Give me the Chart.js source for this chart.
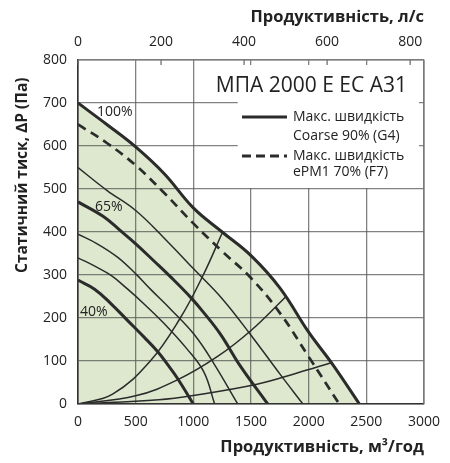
<!DOCTYPE html>
<html>
<head>
<meta charset="utf-8">
<script src="https://cdn.jsdelivr.net/npm/chart.js@4.4.1/dist/chart.umd.min.js"></script>
<style>
  html, body { margin: 0; padding: 0; background: #fff; }
  #caja { width: 450px; height: 463px; }
</style>
</head>
<body>
<div id="caja"><canvas id="grafico"></canvas></div>
<script>
// Curvas del ventilador: caudal (m3/h) y presion estatica (Pa)
const q100 = [0, 250, 500, 750, 1000, 1250, 1500, 1750, 2000, 2200, 2440];
const p100 = [700, 650, 598, 535, 456, 400, 345, 270, 167, 95, 0];

const qF7 = [0, 250, 500, 750, 1000, 1250, 1500, 1750, 2000, 2265];
const pF7 = [650, 607, 555, 490, 420, 355, 293, 212, 110, 0];

const q90 = [0, 250, 500, 750, 1000, 1250, 1500, 1750, 1950];
const p90 = [550, 497, 450, 385, 315, 245, 160, 70, 0];

const q65 = [0, 220, 360, 503, 661, 805, 977, 1092, 1236, 1408, 1645];
const p65 = [470, 436, 405, 372, 332, 295, 248, 212, 162, 88, 0];

const q55 = [0, 170, 345, 503, 632, 805, 1006, 1178, 1385];
const p55 = [395, 372, 341, 302, 266, 220, 162, 94, 0];

const q48 = [0, 150, 287, 431, 575, 747, 948, 1092, 1185];
const p48 = [340, 320, 299, 267, 232, 187, 127, 74, 0];

const q40 = [0, 144, 287, 431, 575, 690, 776, 862, 1000];
const p40 = [288, 267, 233, 194, 155, 122, 92, 60, 0];

// Curvas de la red (desde el origen hasta la curva de 100%)
const qRed1 = [0, 300, 627, 887, 1086, 1254];
const pRed1 = [0, 23, 100, 200, 300, 400];
const qRed2 = [0, 500, 862, 1207, 1500, 1800];
const pRed2 = [0, 19, 56, 110, 171, 249];
const qRed3 = [0, 700, 1000, 1552, 1900, 2195];
const pRed3 = [0, 10, 20, 46, 72, 96];

// Ejes
const ticksM3h = [0, 500, 1000, 1500, 2000, 2500, 3000];
const ticksLs = [0, 200, 400, 600, 800];
const ticksPa = [0, 100, 200, 300, 400, 500, 600, 700, 800];

const titulo = 'МПА 2000 E EC A31';
const leyenda = [['Макс. швидкість', 'Coarse 90% (G4)'], ['Макс. швидкість', 'ePM1 70% (F7)']];
const etiquetasPct = ['100%', '65%', '40%'];

const COLOR_LINEA = '#2b2b2b';
const COLOR_TEXTO = '#222';
const FUENTE = '"Open Sans", "Noto Sans", sans-serif';

function puntos(qs, ps) {
    return qs.map((q, i) => ({ x: q, y: ps[i] }));
}

function curva(qs, ps, ancho, extra) {
    return Object.assign({
        data: puntos(qs, ps),
        borderColor: COLOR_LINEA,
        borderWidth: ancho,
        pointRadius: 0,
        fill: false,
        tension: 0.4
    }, extra || {});
}

// Recuadro blanco, titulo, leyenda y textos sobre el grafico
const anotaciones = {
    id: 'anotaciones',
    beforeDatasetsDraw(chart) {
        const { ctx, chartArea: a, scales: { x, y } } = chart;
        const x0 = x.getPixelForValue(1385);
        const y1 = y.getPixelForValue(500);
        ctx.save();
        ctx.fillStyle = '#fff';
        ctx.fillRect(x0, a.top + 5, a.right - 5 - x0, y1 - 1 - (a.top + 5));
        ctx.restore();
    },
    afterDraw(chart) {
        const { ctx, chartArea: a, scales: { x, y, x2 } } = chart;
        ctx.save();

        // marcas del eje superior (l/s) hacia adentro
        ctx.strokeStyle = '#666';
        ctx.lineWidth = 1.2;
        x2.ticks.forEach(t => {
            const px = x2.getPixelForValue(t.value);
            ctx.beginPath();
            ctx.moveTo(px, a.top);
            ctx.lineTo(px, a.top + 5);
            ctx.stroke();
        });
        ctx.strokeStyle = '#777';
        ctx.beginPath();
        ctx.moveTo(a.left, a.top);
        ctx.lineTo(a.right, a.top);
        ctx.lineTo(a.right, a.bottom);
        ctx.stroke();

        ctx.fillStyle = COLOR_TEXTO;

        // titulo del modelo
        ctx.font = '21px ' + FUENTE;
        ctx.textAlign = 'right';
        ctx.textBaseline = 'alphabetic';
        ctx.fillText(titulo, a.right - 17, a.top + 32);

        // leyenda
        ctx.strokeStyle = COLOR_LINEA;
        ctx.lineWidth = 3;
        [57, 96].forEach((dy, i) => {
            ctx.setLineDash(i === 1 ? [9, 5] : []);
            ctx.beginPath();
            ctx.moveTo(a.right - 182, a.top + dy);
            ctx.lineTo(a.right - 137, a.top + dy);
            ctx.stroke();
        });
        ctx.setLineDash([]);
        ctx.font = '14px ' + FUENTE;
        ctx.textAlign = 'left';
        ctx.textBaseline = 'middle';
        ctx.fillText(leyenda[0][0], a.right - 131, a.top + 57);
        ctx.fillText(leyenda[0][1], a.right - 131, a.top + 76);
        ctx.fillText(leyenda[1][0], a.right - 131, a.top + 96);
        ctx.fillText(leyenda[1][1], a.right - 131, a.top + 112);

        // porcentajes de velocidad
        const anclas = [[164, 679], [147, 458], [17, 215]];
        ctx.font = '14px ' + FUENTE;
        etiquetasPct.forEach((txt, i) => {
            ctx.fillText(txt, x.getPixelForValue(anclas[i][0]), y.getPixelForValue(anclas[i][1]));
        });

        // titulo del eje vertical
        ctx.translate(23, y.getPixelForValue(532));
        ctx.rotate(-Math.PI / 2);
        ctx.font = 'bold 15.5px ' + FUENTE;
        ctx.textAlign = 'center';
        ctx.fillText('Статичний тиск, ∆P (Па)', 0, 0);
        ctx.restore();
    }
};

function crearGrafico() {
    const ctx = document.getElementById('grafico').getContext('2d');
    const grid = { color: 'rgba(85,90,85,0.75)', lineWidth: 1.3, drawTicks: false };
    const fuenteTicks = { family: FUENTE, size: 14 };
    const fuenteTitulo = { family: FUENTE, size: 16.5, weight: 'bold' };

    return new Chart(ctx, {
        type: 'line',
        data: {
            datasets: [
                curva(q100, p100, 3, { fill: 'origin', backgroundColor: '#dde8cf' }),
                curva(qF7, pF7, 2.7, { borderDash: [9, 6] }),
                curva(q90, p90, 1.5),
                curva(q65, p65, 3),
                curva(q55, p55, 1.5),
                curva(q48, p48, 1.5),
                curva(q40, p40, 3),
                curva(qRed1, pRed1, 1.5),
                curva(qRed2, pRed2, 1.5),
                curva(qRed3, pRed3, 1.5)
            ]
        },
        options: {
            responsive: true,
            maintainAspectRatio: false,
            animation: false,
            layout: { padding: { left: 0, right: 25, top: 0, bottom: 0 } },
            plugins: {
                legend: { display: false },
                tooltip: { enabled: false },
                filler: { drawTime: 'beforeDraw' }
            },
            scales: {
                x: {
                    type: 'linear', position: 'bottom', min: 0, max: 3000,
                    afterBuildTicks: s => { s.ticks = ticksM3h.map(v => ({ value: v })); },
                    ticks: { color: COLOR_TEXTO, font: fuenteTicks, padding: 10, maxRotation: 0, callback: v => String(v) },
                    grid: grid,
                    border: { color: '#333', width: 1.6, z: 1 },
                    title: { display: true, text: 'Продуктивність, м³/год', align: 'end', color: COLOR_TEXTO, font: fuenteTitulo, padding: { top: 0, bottom: 6 } },
                    afterFit: s => { s.height = 59; }
                },
                x2: {
                    type: 'linear', position: 'top', min: 0, max: 3000 / 3.6,
                    afterBuildTicks: s => { s.ticks = ticksLs.map(v => ({ value: v })); },
                    ticks: { color: COLOR_TEXTO, font: fuenteTicks, padding: 10, maxRotation: 0, callback: v => String(v) },
                    grid: { drawOnChartArea: false, drawTicks: false },
                    border: { display: false },
                    title: { display: true, text: 'Продуктивність, л/с', align: 'end', color: COLOR_TEXTO, font: fuenteTitulo, padding: { top: 7, bottom: 0 } },
                    afterFit: s => { s.height = 60; }
                },
                y: {
                    type: 'linear', min: 0, max: 800,
                    afterBuildTicks: s => { s.ticks = ticksPa.map(v => ({ value: v })); },
                    ticks: { color: COLOR_TEXTO, font: fuenteTicks, padding: 11, callback: v => String(v) },
                    grid: grid,
                    border: { color: '#333', width: 1.6, z: 1 },
                    afterFit: s => { s.width = 78; }
                }
            }
        },
        plugins: [anotaciones]
    });
}

crearGrafico();
</script>
</body>
</html>
